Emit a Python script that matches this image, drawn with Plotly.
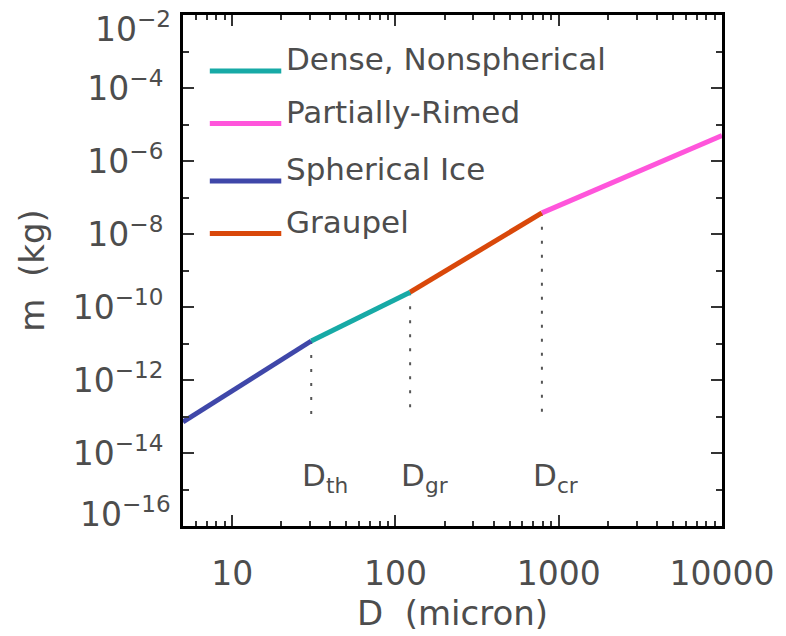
import plotly.graph_objects as go
import numpy as np

# ---- data ----
D_break = [5.0, 30.5, 123.0, 789.0, 10000.0]          # micron
m_break = [7.1e-14, 1.17e-11, 2.54e-10, 3.8e-8, 5.0e-6]  # kg
segment_names = ["Spherical Ice", "Dense, Nonspherical", "Graupel", "Partially-Rimed"]
segment_colors = ["#3f47a9", "#17aaa6", "#d9480a", "#ff55db"]
legend_order = ["Dense, Nonspherical", "Partially-Rimed", "Spherical Ice", "Graupel"]

threshold_D = [30.5, 123.0, 789.0]
threshold_m = [1.17e-11, 2.54e-10, 3.8e-8]
threshold_bottom = 1e-13
threshold_labels = ["D<sub>th</sub>", "D<sub>gr</sub>", "D<sub>cr</sub>"]

x_tickvals = [10, 100, 1000, 10000]
x_ticktext = ["10", "100", "1000", "10000"]
y_major = [1e-16, 1e-14, 1e-12, 1e-10, 1e-8, 1e-6, 1e-4, 1e-2]
y_labels = ["10<sup>−16</sup>", "10<sup>−14</sup>", "10<sup>−12</sup>", "10<sup>−10</sup>",
            "10<sup>−8</sup>", "10<sup>−6</sup>", "10<sup>−4</sup>", "10<sup>−2</sup>"]

FONT = "DejaVu Sans"
TXT = "#4d4d4d"

fig = go.Figure()

# threshold dotted lines
for Dv, mv in zip(threshold_D, threshold_m):
    fig.add_trace(go.Scatter(x=[Dv, Dv], y=[mv, threshold_bottom], mode="lines",
                             line=dict(color="#555555", width=2, dash="3px,11px"),
                             showlegend=False, hoverinfo="skip"))

# curve segments
for i, (name, col) in enumerate(zip(segment_names, segment_colors)):
    fig.add_trace(go.Scatter(x=[D_break[i], D_break[i + 1]], y=[m_break[i], m_break[i + 1]],
                             mode="lines", line=dict(color=col, width=5),
                             name=name, showlegend=False))

annotations = []
shapes = []

plot_left, plot_right, plot_top, plot_bottom = 183, 726, 13.5, 529
pw = plot_right - plot_left
ph = plot_bottom - plot_top

# threshold labels
for Dv, lab in zip(threshold_D, threshold_labels):
    annotations.append(dict(x=np.log10(Dv), y=(plot_bottom - 480) / ph, xref="x", yref="paper",
                            text=lab, showarrow=False, xanchor="left", yanchor="middle",
                            xshift=-11, font=dict(family=FONT, size=31, color=TXT)))

# manual legend (keys in paper coordinates)
key_y_px = [70, 123, 181, 234]
for name, ypx in zip(legend_order, key_y_px):
    col = segment_colors[segment_names.index(name)]
    yp = (plot_bottom - ypx) / ph
    shapes.append(dict(type="line", xref="paper", yref="paper",
                       x0=(210 - plot_left) / pw, x1=(282 - plot_left) / pw, y0=yp, y1=yp,
                       line=dict(color=col, width=5)))
    annotations.append(dict(x=(285 - plot_left) / pw, y=(plot_bottom - (ypx - 12)) / ph,
                            xref="paper", yref="paper", text=name, showarrow=False,
                            xanchor="left", yanchor="middle",
                            font=dict(family=FONT, size=31, color=TXT)))

# end y tick labels shifted inward
annotations.append(dict(x=0, y=-2, xref="paper", yref="y", text=y_labels[-1], showarrow=False,
                        xanchor="right", yanchor="middle", xshift=-10, yshift=-12,
                        font=dict(family=FONT, size=33, color=TXT)))
annotations.append(dict(x=0, y=-16, xref="paper", yref="y", text=y_labels[0], showarrow=False,
                        xanchor="right", yanchor="middle", xshift=-10, yshift=14,
                        font=dict(family=FONT, size=33, color=TXT)))

x_minor = [v * 10 ** e for e in range(0, 4) for v in range(2, 10) if 5 <= v * 10 ** e <= 10000]
y_minor = [10.0 ** e for e in range(-15, -2, 2)]

fig.update_layout(
    width=786, height=636,
    margin=dict(l=183, r=786 - 726, t=13.5, b=636 - 529),
    paper_bgcolor="white", plot_bgcolor="white",
    font=dict(family=FONT, size=33, color=TXT),
    shapes=shapes, annotations=annotations,
    showlegend=False,
)
fig.update_xaxes(type="log", range=[np.log10(5), 4], tickmode="array",
                 tickvals=x_tickvals, ticktext=x_ticktext,
                 ticks="inside", ticklen=11, tickwidth=1.5, tickcolor="#333",
                 showline=True, linewidth=3, linecolor="black", mirror="ticks",
                 showgrid=False, zeroline=False, ticklabelstandoff=16,
                 tickfont=dict(family=FONT, size=33, color=TXT),
                 minor=dict(tickmode="array", tickvals=x_minor, ticks="inside", ticklen=5,
                            tickcolor="#333", tickwidth=1.5, showgrid=False),
                 title=dict(text="D  (micron)", standoff=8,
                            font=dict(family=FONT, size=34, color=TXT)))
fig.update_yaxes(type="log", range=[-16, -2], tickmode="array",
                 tickvals=y_major, ticktext=[""] + y_labels[1:-1] + [""],
                 ticks="inside", ticklen=11, tickwidth=1.5, tickcolor="#333",
                 showline=True, linewidth=3, linecolor="black", mirror="ticks",
                 showgrid=False, zeroline=False, ticklabelstandoff=10,
                 tickfont=dict(family=FONT, size=33, color=TXT),
                 minor=dict(tickmode="array", tickvals=y_minor, ticks="inside", ticklen=6,
                            tickcolor="#333", tickwidth=1.5, showgrid=False),
                 title=dict(text="m  (kg)", standoff=18,
                            font=dict(family=FONT, size=34, color=TXT)))

fig.write_html("out.html")
